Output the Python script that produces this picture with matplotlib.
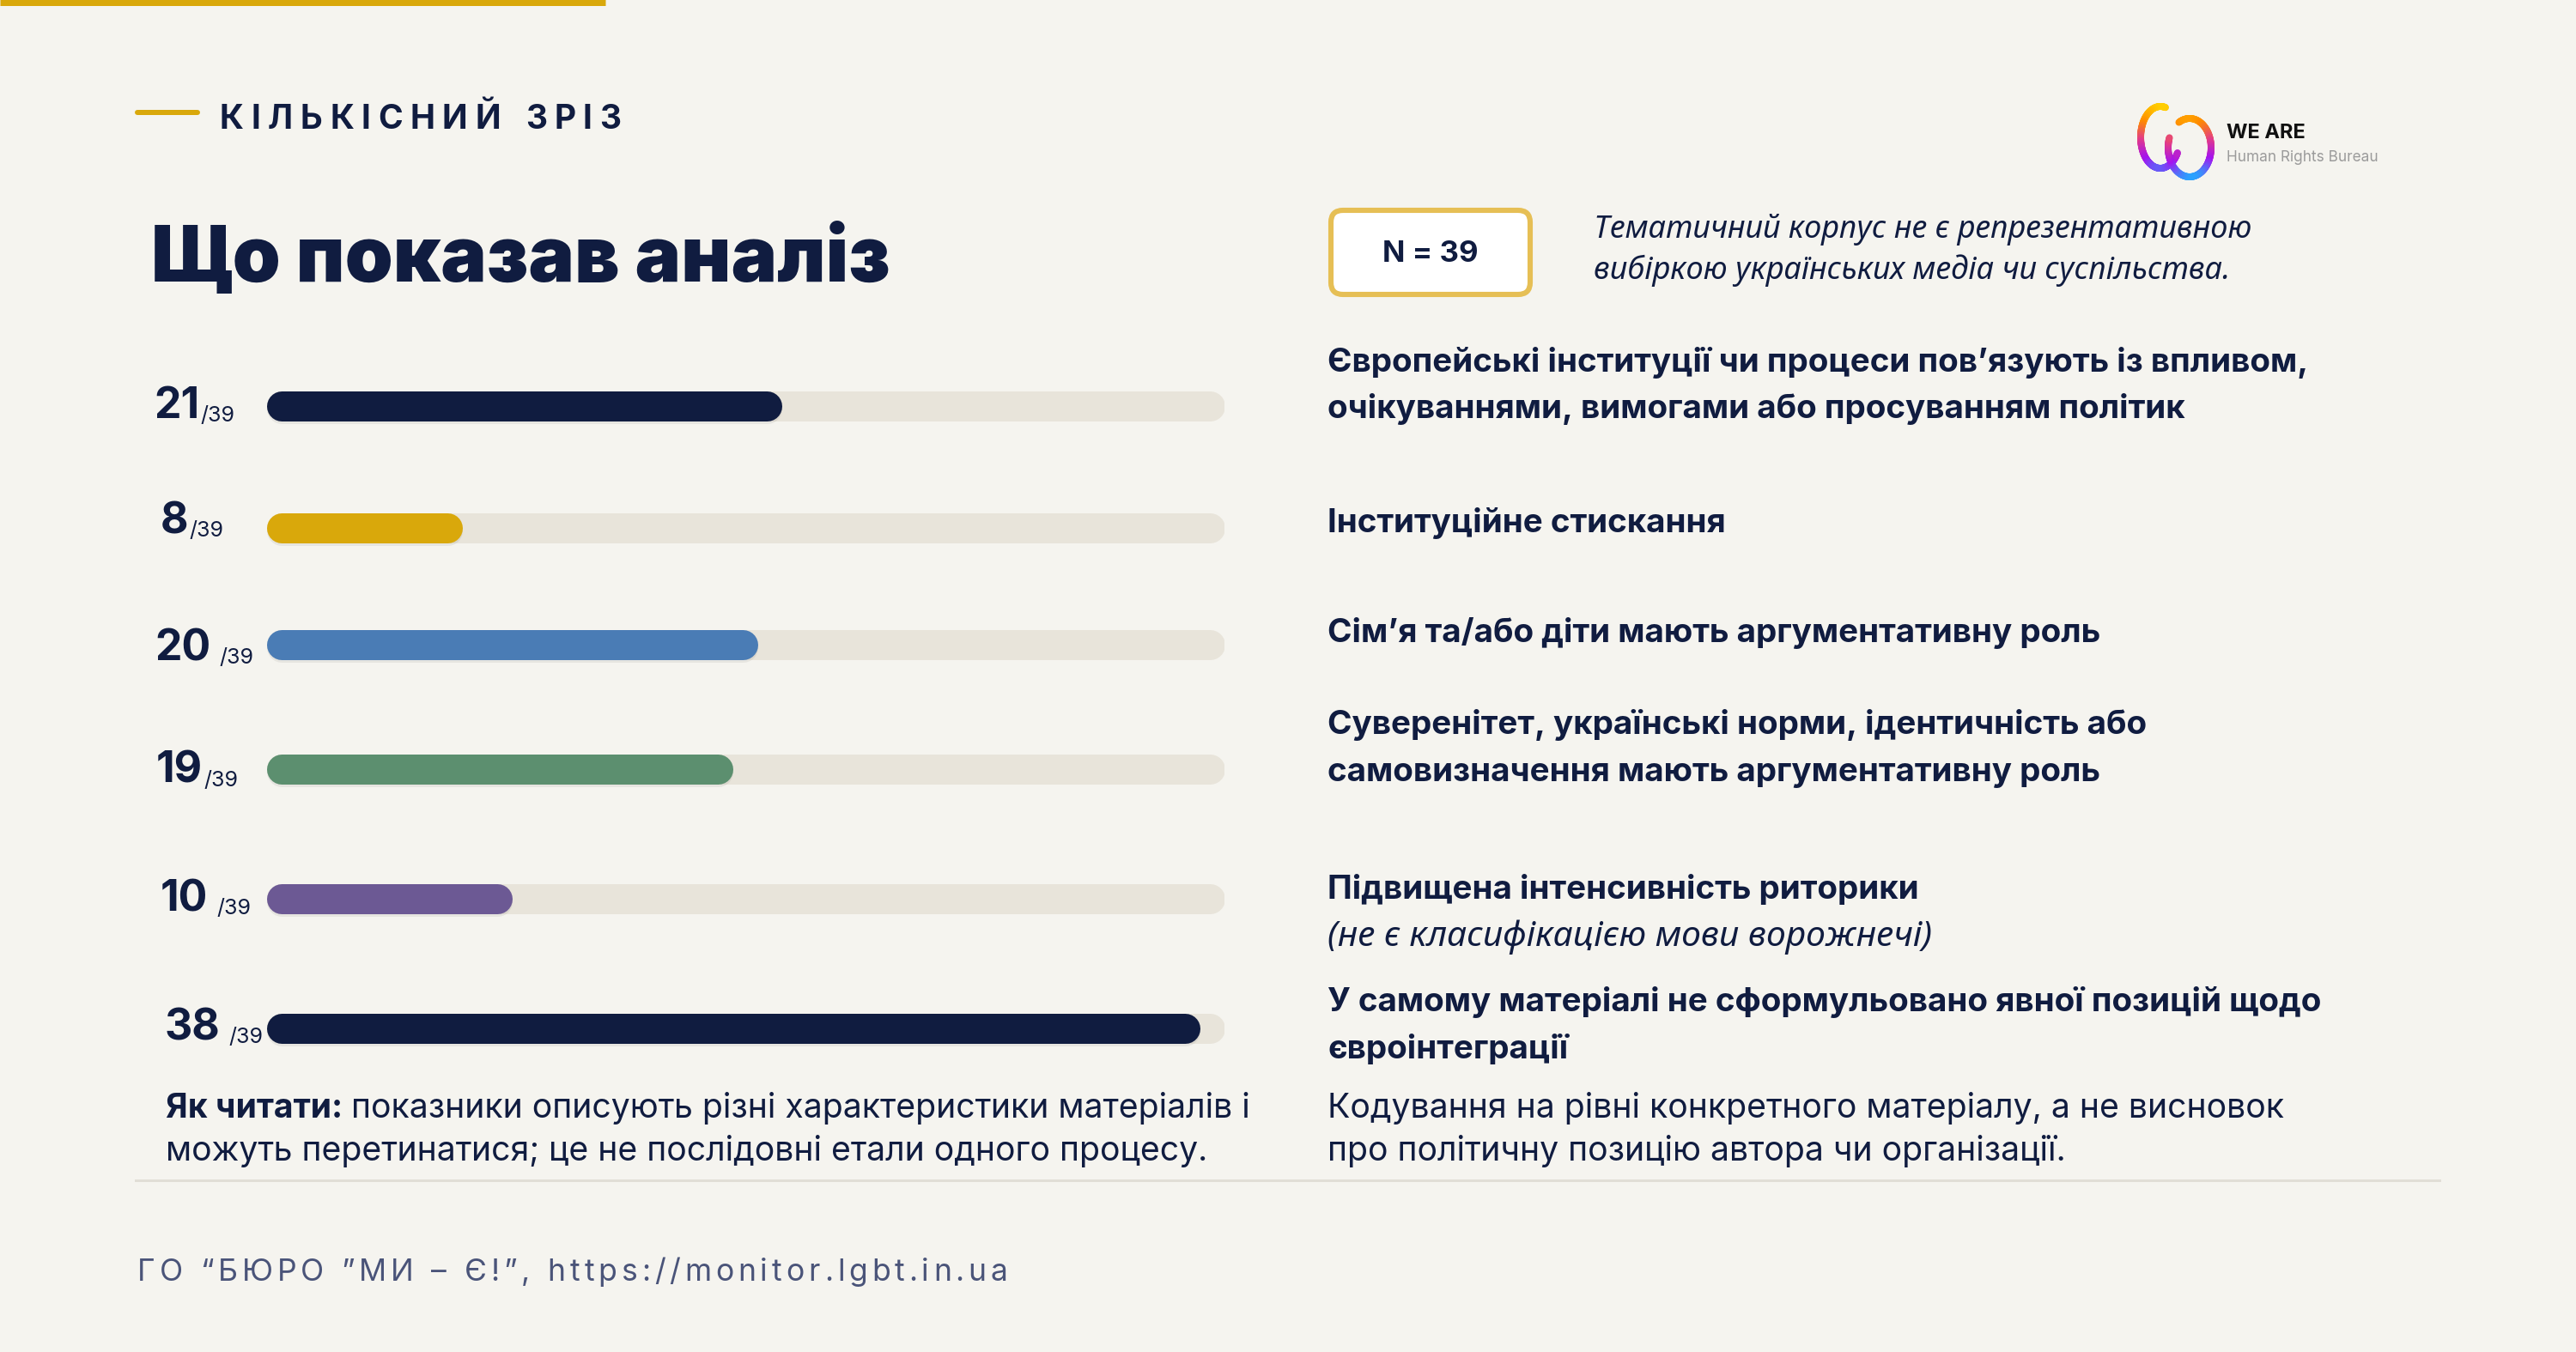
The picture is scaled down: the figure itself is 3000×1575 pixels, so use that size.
import numpy as np
import matplotlib
matplotlib.use("Agg")
import matplotlib.pyplot as plt
from matplotlib.patches import FancyBboxPatch
from matplotlib.collections import LineCollection
from matplotlib.colors import LinearSegmentedColormap

plt.rcParams['font.family'] = ['Inter', 'DejaVu Sans']

# data
total = 39
values = [21, 8, 20, 19, 10, 38]
seps = ['', '', ' ', '', ' ', ' ']
bar_colors = ['#101c40', '#d9a80b', '#4a7cb5', '#5c8f6f', '#6c5994', '#101c40']
labels = [
    ["Європейські інституції чи процеси пов’язують із впливом,",
     "очікуваннями, вимогами або просуванням політик"],
    ["Інституційне стискання"],
    ["Сім’я та/або діти мають аргументативну роль"],
    ["Суверенітет, українські норми, ідентичність або",
     "самовизначення мають аргументативну роль"],
    ["Підвищена інтенсивність риторики"],
    ["У самому матеріалі не сформульовано явної позицій щодо",
     "євроінтеграції"],
]
sub_note = "(не є класифікацією мови ворожнечі)"
kicker = "КІЛЬКІСНИЙ ЗРІЗ"
title = "Що показав аналіз"
n_text = "N = 39"
disclaimer = ["Тематичний корпус не є репрезентативною",
              "вибіркою українських медіа чи суспільства."]
how_bold = "Як читати:"
how_rest = ["показники описують різні характеристики матеріалів і",
            "можуть перетинатися; це не послідовні етали одного процесу."]
coding_note = ["Кодування на рівні конкретного матеріалу, а не висновок",
               "про політичну позицію автора чи організації."]
footer = "ГО “БЮРО ”МИ – Є!”, https://monitor.lgbt.in.ua"

NAVY = '#101c40'
BG = '#f5f4ef'
TRACK = '#e8e4da'

W, H, DPI = 3000, 1575, 200
fig = plt.figure(figsize=(W / DPI, H / DPI), dpi=DPI, facecolor=BG)
ax = fig.add_axes([0, 0, 1, 1])
ax.set_xlim(0, W)
ax.set_ylim(H, 0)
ax.axis('off')
r = fig.canvas.get_renderer()


def width(t):
    return t.get_window_extent(r).width


def spaced(x, y, s, gap, **kw):
    for ch in s:
        if ch == ' ':
            x += kw.get('fontsize', 10) * DPI / 72 * 0.3 + gap
            continue
        t = ax.text(x, y, ch, va='baseline', **kw)
        x += width(t) + gap
    return x


# top decorations
ax.plot([0, 705], [3, 3], color='#d9a80b', lw=7 * 72 / DPI, solid_capstyle='butt')
ax.plot([160, 230], [131, 131], color='#d9a80b', lw=6 * 72 / DPI, solid_capstyle='round')
spaced(256, 150, kicker, 8.6, fontsize=14, fontweight='bold', color=NAVY)
ax.text(176, 328, title, fontsize=32.3, fontweight='black', color=NAVY, va='baseline')

# N box + disclaimer
box = FancyBboxPatch((1550, 245), 232, 98, boxstyle='round,pad=0,rounding_size=14',
                     facecolor='white', edgecolor='#e6bf55', lw=2.2)
ax.add_patch(box)
ax.text(1666, 296, n_text, fontsize=12.5, fontweight='bold', color=NAVY,
        ha='center', va='center')
for i, line in enumerate(disclaimer):
    ax.text(1856, 277 + i * 48, line, fontsize=13, fontstyle='italic', fontweight='light',
            color=NAVY, va='baseline', family=['Noto Sans', 'DejaVu Sans'])

# logo
cmap = LinearSegmentedColormap.from_list('logo', ['#ffd400', '#ff8c00', '#e23a8c', '#a414f0', '#1fb0ff'])
def loop(cx, cy, rx, ry, t0, t1):
    t = np.radians(np.linspace(t0, t1, 200))
    xs = cx + rx * np.cos(t)
    ys = cy - ry * np.sin(t)
    pts = np.column_stack([xs, ys]).reshape(-1, 1, 2)
    segs = np.concatenate([pts[:-1], pts[1:]], axis=1)
    lc = LineCollection(segs, colors=cmap((ys[:-1] - 122) / 86), linewidths=8 * 72 / DPI,
                        capstyle='round')
    ax.add_collection(lc)
loop(2516, 160, 23, 36, 75, 330)
loop(2550, 172, 25, 34, 120, -200)
ax.text(2593, 161, "WE ARE", fontsize=8.5, fontweight='bold', color='#111111', va='baseline')
ax.text(2593, 188, "Human Rights Bureau", fontsize=6.2, color='#9b9b9b', va='baseline')

# bars
row_y = [473, 615, 751, 896, 1047, 1198]
num_base = [487, 621, 769, 912, 1061, 1211]
num_x = [179, 187, 180, 182, 187, 192]
bx0, bx1 = 310, 1426
axb = fig.add_axes([bx0 / W, 0, (bx1 - bx0) / W, 1])
axb.set_xlim(0, total)
axb.set_ylim(H, 0)
axb.axis('off')
bar_h = 35
lw = bar_h * 72 / DPI
rad = (bar_h / 2) / ((bx1 - bx0) / total)
for v, y, c in zip(values, row_y, bar_colors):
    axb.plot([rad, total - rad], [y, y], color=TRACK, lw=lw, solid_capstyle='round')
    axb.plot([rad, v - rad], [y + 3, y + 3], color='black', alpha=0.06, lw=lw,
             solid_capstyle='round')
    axb.plot([rad, v - rad], [y, y], color=c, lw=lw, solid_capstyle='round')

for v, sep, x, yb in zip(values, seps, num_x, num_base):
    t = ax.text(x, yb, str(v), fontsize=18, fontweight='bold', color=NAVY, va='baseline')
    gap = 1 + (9 if sep else 0)
    ax.text(x + width(t) + gap, yb + 4, "/" + str(total), fontsize=9, color=NAVY,
            va='baseline')

# labels on the right
lab_size = 13.9
lab_base = [[433, 487], [620], [748], [855, 910], [1047], [1178, 1233]]
for lines, bases in zip(labels, lab_base):
    for line, yb in zip(lines, bases):
        ax.text(1546, yb, line, fontsize=lab_size, fontweight='bold', color=NAVY, va='baseline')
ax.text(1546, 1102, sub_note, fontsize=14.7, fontstyle='italic', fontweight='light',
        color=NAVY, va='baseline', family=['Noto Sans', 'DejaVu Sans'])

# bottom notes
note_size = 14.1
t = ax.text(193, 1302, how_bold, fontsize=note_size, fontweight='bold', color=NAVY, va='baseline')
ax.text(193 + width(t) + 10, 1302, how_rest[0], fontsize=note_size, color=NAVY, va='baseline')
ax.text(193, 1352, how_rest[1], fontsize=note_size, color=NAVY, va='baseline')
for i, line in enumerate(coding_note):
    ax.text(1546, 1302 + i * 50, line, fontsize=note_size, color=NAVY, va='baseline')

ax.plot([158, 2841], [1375, 1375], color='#e1ded6', lw=3 * 72 / DPI)
spaced(160, 1492, footer, 4.9, fontsize=12.8, color='#4a5479')

fig.savefig('out.png', dpi=DPI, facecolor=BG)
